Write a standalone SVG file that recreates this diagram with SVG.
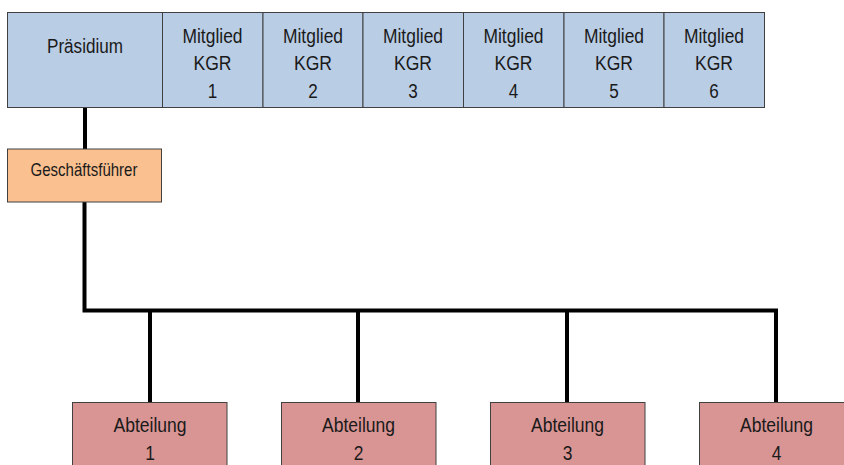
<svg xmlns="http://www.w3.org/2000/svg" width="844" height="465" viewBox="0 0 844 465">
  <style>
    text { font-family: "Liberation Sans", Arial, sans-serif; fill: #1a1a1a; text-anchor: middle; }
    .board { fill: #b9cde5; stroke: #404040; stroke-width: 1; }
    .gf { fill: #fac090; stroke: #404040; stroke-width: 1; }
    .dept { fill: #d99594; stroke: #404040; stroke-width: 1; }
    .t20 { font-size: 20.5px; }
    .t18 { font-size: 18.5px; }
    .t21 { font-size: 21px; }
    .link { stroke: #000; stroke-width: 4; fill: none; stroke-linecap: square; }
  </style>

  <!-- connectors -->
  <g id="connectors">
    <line class="link" x1="85" y1="108" x2="85" y2="148"/>
    <polyline class="link" points="84.5,203 84.5,310.5 776,310.5 776,402"/>
    <line class="link" x1="150" y1="311" x2="150" y2="402"/>
    <line class="link" x1="358" y1="311" x2="358" y2="402"/>
    <line class="link" x1="567" y1="311" x2="567" y2="402"/>
  </g>

  <!-- board row (narrow lettering via textLength) -->
  <g id="praesidium">
    <rect class="board" x="7.5" y="12.5" width="155" height="95"/>
    <text class="t20" x="85" y="53" textLength="76" lengthAdjust="spacingAndGlyphs">Präsidium</text>
  </g>
  <g id="kgr1">
    <rect class="board" x="162.5" y="12.5" width="100.5" height="95"/>
    <text class="t20" x="212.5" y="42.5" textLength="60" lengthAdjust="spacingAndGlyphs">Mitglied</text>
    <text class="t20" x="212.5" y="70" textLength="38" lengthAdjust="spacingAndGlyphs">KGR</text>
    <text class="t20" x="212.5" y="97.5" textLength="9.5" lengthAdjust="spacingAndGlyphs">1</text>
  </g>
  <g id="kgr2">
    <rect class="board" x="263" y="12.5" width="100" height="95"/>
    <text class="t20" x="313" y="42.5" textLength="60" lengthAdjust="spacingAndGlyphs">Mitglied</text>
    <text class="t20" x="313" y="70" textLength="38" lengthAdjust="spacingAndGlyphs">KGR</text>
    <text class="t20" x="313" y="97.5" textLength="9.5" lengthAdjust="spacingAndGlyphs">2</text>
  </g>
  <g id="kgr3">
    <rect class="board" x="363" y="12.5" width="100.5" height="95"/>
    <text class="t20" x="413" y="42.5" textLength="60" lengthAdjust="spacingAndGlyphs">Mitglied</text>
    <text class="t20" x="413" y="70" textLength="38" lengthAdjust="spacingAndGlyphs">KGR</text>
    <text class="t20" x="413" y="97.5" textLength="9.5" lengthAdjust="spacingAndGlyphs">3</text>
  </g>
  <g id="kgr4">
    <rect class="board" x="463.5" y="12.5" width="100.5" height="95"/>
    <text class="t20" x="513.5" y="42.5" textLength="60" lengthAdjust="spacingAndGlyphs">Mitglied</text>
    <text class="t20" x="513.5" y="70" textLength="38" lengthAdjust="spacingAndGlyphs">KGR</text>
    <text class="t20" x="513.5" y="97.5" textLength="9.5" lengthAdjust="spacingAndGlyphs">4</text>
  </g>
  <g id="kgr5">
    <rect class="board" x="564" y="12.5" width="100" height="95"/>
    <text class="t20" x="614" y="42.5" textLength="60" lengthAdjust="spacingAndGlyphs">Mitglied</text>
    <text class="t20" x="614" y="70" textLength="38" lengthAdjust="spacingAndGlyphs">KGR</text>
    <text class="t20" x="614" y="97.5" textLength="9.5" lengthAdjust="spacingAndGlyphs">5</text>
  </g>
  <g id="kgr6">
    <rect class="board" x="664" y="12.5" width="100.5" height="95"/>
    <text class="t20" x="714" y="42.5" textLength="60" lengthAdjust="spacingAndGlyphs">Mitglied</text>
    <text class="t20" x="714" y="70" textLength="38" lengthAdjust="spacingAndGlyphs">KGR</text>
    <text class="t20" x="714" y="97.5" textLength="9.5" lengthAdjust="spacingAndGlyphs">6</text>
  </g>

  <!-- managing director -->
  <g id="geschaeftsfuehrer">
    <rect class="gf" x="7.5" y="149" width="154" height="53"/>
    <text class="t18" x="84" y="175.5" textLength="107" lengthAdjust="spacingAndGlyphs">Geschäftsführer</text>
  </g>

  <!-- departments -->
  <g id="abteilung1">
    <rect class="dept" x="72.5" y="402.5" width="154.5" height="70"/>
    <text class="t21" x="150" y="432" textLength="73" lengthAdjust="spacingAndGlyphs">Abteilung</text>
    <text class="t21" x="150" y="460" textLength="9.7" lengthAdjust="spacingAndGlyphs">1</text>
  </g>
  <g id="abteilung2">
    <rect class="dept" x="281.5" y="402.5" width="154.5" height="70"/>
    <text class="t21" x="358.5" y="432" textLength="73" lengthAdjust="spacingAndGlyphs">Abteilung</text>
    <text class="t21" x="358.5" y="460" textLength="9.7" lengthAdjust="spacingAndGlyphs">2</text>
  </g>
  <g id="abteilung3">
    <rect class="dept" x="490.5" y="402.5" width="154.5" height="70"/>
    <text class="t21" x="567.5" y="432" textLength="73" lengthAdjust="spacingAndGlyphs">Abteilung</text>
    <text class="t21" x="567.5" y="460" textLength="9.7" lengthAdjust="spacingAndGlyphs">3</text>
  </g>
  <g id="abteilung4">
    <rect class="dept" x="699.5" y="402.5" width="154.5" height="70"/>
    <text class="t21" x="776.5" y="432" textLength="73" lengthAdjust="spacingAndGlyphs">Abteilung</text>
    <text class="t21" x="776.5" y="460" textLength="9.7" lengthAdjust="spacingAndGlyphs">4</text>
  </g>
</svg>
